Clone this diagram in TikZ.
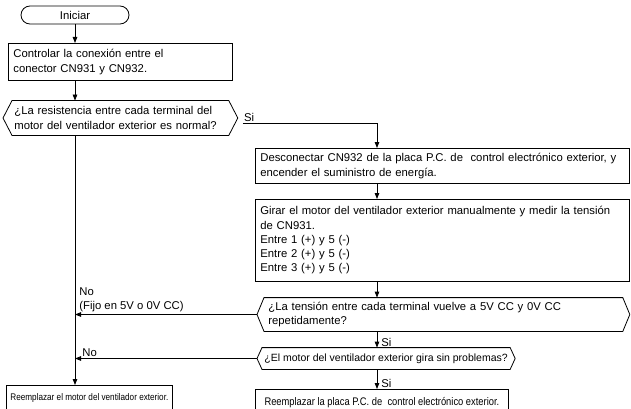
\documentclass[tikz,border=0pt]{standalone}
\usepackage{fontspec}
\setmainfont{Liberation Sans}
\newfontfamily\narrowfont[FakeStretch=0.85]{Liberation Sans}
\usetikzlibrary{positioning}
\usetikzlibrary{arrows.meta}

\begin{document}
\begin{tikzpicture}[x=1pt, y=-1pt, line width=0.8pt,
    every node/.style={font=\fontsize{11.3}{14.3}\selectfont},
    caja/.style={draw, rectangle, anchor=north west, align=left, inner xsep=5pt, inner ysep=2pt},
    inicio/.style={draw, rectangle, rounded corners=9pt, minimum width=108pt, minimum height=18pt},
    decision/.style={rectangle, anchor=west, align=left, inner xsep=11pt, inner ysep=1pt},
    flecha/.style={-{Triangle[length=6pt,width=4.5pt]}}]
  \useasboundingbox (0,0) rectangle (631,409);

  % Nodos
  \node[inicio] (inicio) at (75,15) {Iniciar};
  \node[caja, text width=214pt, minimum height=37pt] (ctrl) at (8,43)
    {Controlar la conexión entre el\\conector CN931 y CN932.};
  \node[decision, text width=212pt, minimum height=34pt] (resist) at (3,118)
    {¿La resistencia entre cada terminal del\\motor del ventilador exterior es normal?};
  \coordinate (eje) at (377,0);
  \node[caja, text width=364pt, minimum height=35pt] (desc) at (255,148)
    {Desconectar CN932 de la placa P.C. de\ \ control electrónico exterior, y\\encender el suministro de energía.};
  \node[caja, text width=364pt, minimum height=82pt] (girar) at (255,199)
    {Girar el motor del ventilador exterior manualmente y medir la tensión\\de CN931.\\Entre 1 (+) y 5 (-)\\Entre 2 (+) y 5 (-)\\Entre 3 (+) y 5 (-)};
  \node[decision, text width=350pt, minimum height=33pt] (tension) at (257,314.5)
    {¿La tensión entre cada terminal vuelve a 5V CC y 0V CC\\repetidamente?};
  \node[decision, inner xsep=7pt, minimum height=21pt, font=\fontsize{10.5}{13}\selectfont] (giro) at (257,358.5)
    {¿El motor del ventilador exterior gira sin problemas?};
  \node[caja, inner xsep=3pt, minimum width=166pt, minimum height=26pt,
    font=\narrowfont\fontsize{9.6}{12}\selectfont] (cambiomotor) at (6,385)
    {Reemplazar el motor del ventilador exterior.};
  \node[caja, minimum width=253pt, minimum height=27pt,
    font=\narrowfont\fontsize{11}{13}\selectfont] (cambioplaca) at (255,389)
    {Reemplazar la placa P.C. de\ \ control electrónico exterior.};

  % Contorno de las decisiones
  \foreach \n/\d in {resist/9, tension/7, giro/5}
    \draw (\n.west) -- ([xshift=\d pt]\n.north west) -- ([xshift=-\d pt]\n.north east)
      -- (\n.east) -- ([xshift=-\d pt]\n.south east) -- ([xshift=\d pt]\n.south west) -- cycle;

  % Flechas
  \draw[flecha] (inicio.south) -- (inicio |- ctrl.north);
  \draw[flecha] (inicio |- ctrl.south) -- (inicio |- resist.north);
  \draw[flecha] (inicio |- resist.south) -- (inicio |- cambiomotor.north);
  \draw[flecha] ([xshift=5pt,yshift=-5pt]resist.east) node[anchor=south west, inner sep=1pt] {Si}
    -| (eje |- desc.north);
  \draw[flecha] (eje |- desc.south) -- (eje |- girar.north);
  \draw[flecha] (eje |- girar.south) -- (eje |- tension.north);
  \draw[flecha] (eje |- tension.south) -- (eje |- giro.north)
    node[anchor=south west, xshift=3pt, inner sep=1pt] {Si};
  \draw[flecha] (eje |- giro.south) -- (eje |- cambioplaca.north)
    node[anchor=south west, xshift=3pt, inner sep=1pt] {Si};
  \draw[flecha] (tension.west) -- (tension.west -| inicio)
    node[anchor=south west, align=left, xshift=2pt, inner sep=2pt] {No\\(Fijo en 5V o 0V CC)};
  \draw[flecha] (giro.west) -- (giro.west -| inicio)
    node[anchor=south west, xshift=6pt, inner sep=1pt] {No};
\end{tikzpicture}
\end{document}
